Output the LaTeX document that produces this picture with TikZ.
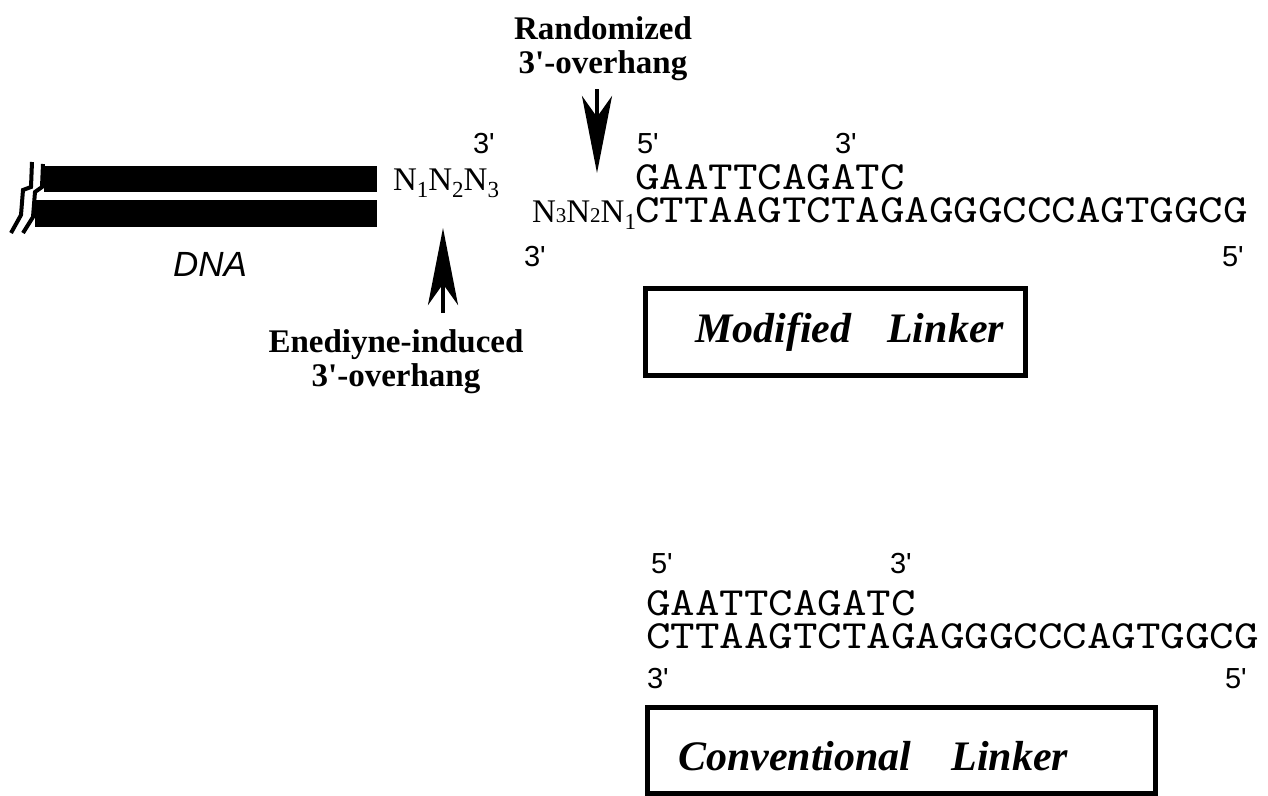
\documentclass[tikz,border=0pt]{standalone}
\usepackage{fontspec}
\setmainfont{Liberation Serif}
\newfontfamily\seqfont{lmmono10-regular.otf}[FakeStretch=1.167]
\newfontfamily\primefont{Liberation Sans}
\usetikzlibrary{arrows.meta}

% straight apostrophe used for the 3'/5' ends
\newcommand\qs{\textquotesingle}
% N with a lowered index, and N with a small index on the baseline
\newcommand\Nlow[1]{N\raisebox{-7pt}{\fontsize{23}{23}\selectfont #1}}
\newcommand\Nsmall[1]{N{\fontsize{21}{21}\selectfont #1}}

\tikzset{
  every node/.style={inner sep=0pt, outer sep=0pt},
  seq/.style={font=\seqfont\fontsize{40}{40}\selectfont, anchor=base west,
              text height=24pt, text depth=0pt},
  endlabel/.style={font=\primefont\fontsize{29}{29}\selectfont, anchor=base west},
  callout/.style={font=\bfseries\fontsize{33}{33}\selectfont, anchor=base},
  nbase/.style={font=\fontsize{33}{33}\selectfont, anchor=base west},
  pointer/.style={line width=4pt, -{Stealth[length=77pt,width=30pt,inset=21pt]}},
  strand/.style={fill=black},
  breakmark/.style={line width=4pt, line join=miter},
  linkerbox/.style={draw, line width=5pt, rectangle, anchor=north west},
  linkertitle/.style={font=\bfseries\itshape\fontsize{42}{42}\selectfont, anchor=base west},
}

\begin{document}
\begin{tikzpicture}[x=1pt, y=-1pt]
\useasboundingbox (0,0) rectangle (1268,795);

% ---- DNA duplex with break marks ----
\fill[strand] (44,166) rectangle (377,192);
\fill[strand] (35,200) rectangle (377,227);
\draw[breakmark] (32,162) -- (31,187) -- (23,190) -- (21,215) -- (11,233);
\draw[breakmark] (43,164) -- (42,187) -- (35,192) -- (33,217) -- (23,233);
\node[font=\primefont\itshape\fontsize{35}{35}\selectfont, anchor=base] (dna) at (210,276) {DNA};

% ---- overhang on the DNA end ----
\node[endlabel] (dna3) at (473,153) {3\qs};
\node[nbase] (nnn) at (393,190) {\Nlow{1}\Nlow{2}\Nlow{3}};

% ---- modified linker ----
\node[endlabel] (m5) at (637,153) {5\qs};
\node[endlabel] (m3) at (835,153) {3\qs};
\node[seq] (mtop) at (635,189) {GAATTCAGATC};
\node[seq] (mbot) at (635,222) {CTTAAGTCTAGAGGGCCCAGTGGCG};
\node[nbase, anchor=base east] (mnnn) at (636,222) {\Nsmall{3}\Nsmall{2}\Nlow{1}};
\node[endlabel] (mb3) at (524,266) {3\qs};
\node[endlabel] (mb5) at (1222,266) {5\qs};
\node[linkerbox, minimum width=380pt, minimum height=87pt] (mbox) at (645,288) {};
\node[linkertitle] (mtitle) at (695,342) {Modified\hspace{36pt}Linker};

% ---- callouts ----
\node[callout] (rand1) at (603,39) {Randomized};
\node[callout] (rand2) at (603,73) {3\qs-overhang};
\coordinate (rstart) at (597,89);
\coordinate (rtip) at (597,173);
\draw[pointer] (rstart) -- (rtip);

\node[callout] (ene1) at (396,352) {Enediyne-induced};
\node[callout] (ene2) at (396,386) {3\qs-overhang};
\coordinate (estart) at (443,313);
\coordinate (etip) at (443,228);
\draw[pointer] (estart) -- (etip);

% ---- conventional linker ----
\node[endlabel] (c5) at (651,573) {5\qs};
\node[endlabel] (c3) at (890,573) {3\qs};
\node[seq] (ctop) at (646,615) {GAATTCAGATC};
\node[seq] (cbot) at (646,648) {CTTAAGTCTAGAGGGCCCAGTGGCG};
\node[endlabel] (cb3) at (647,688) {3\qs};
\node[endlabel] (cb5) at (1225,688) {5\qs};
\node[linkerbox, minimum width=508pt, minimum height=86pt] (cbox) at (647,707) {};
\node[linkertitle] (ctitle) at (678,770) {Conventional\hspace{40pt}Linker};
\end{tikzpicture}
\end{document}
